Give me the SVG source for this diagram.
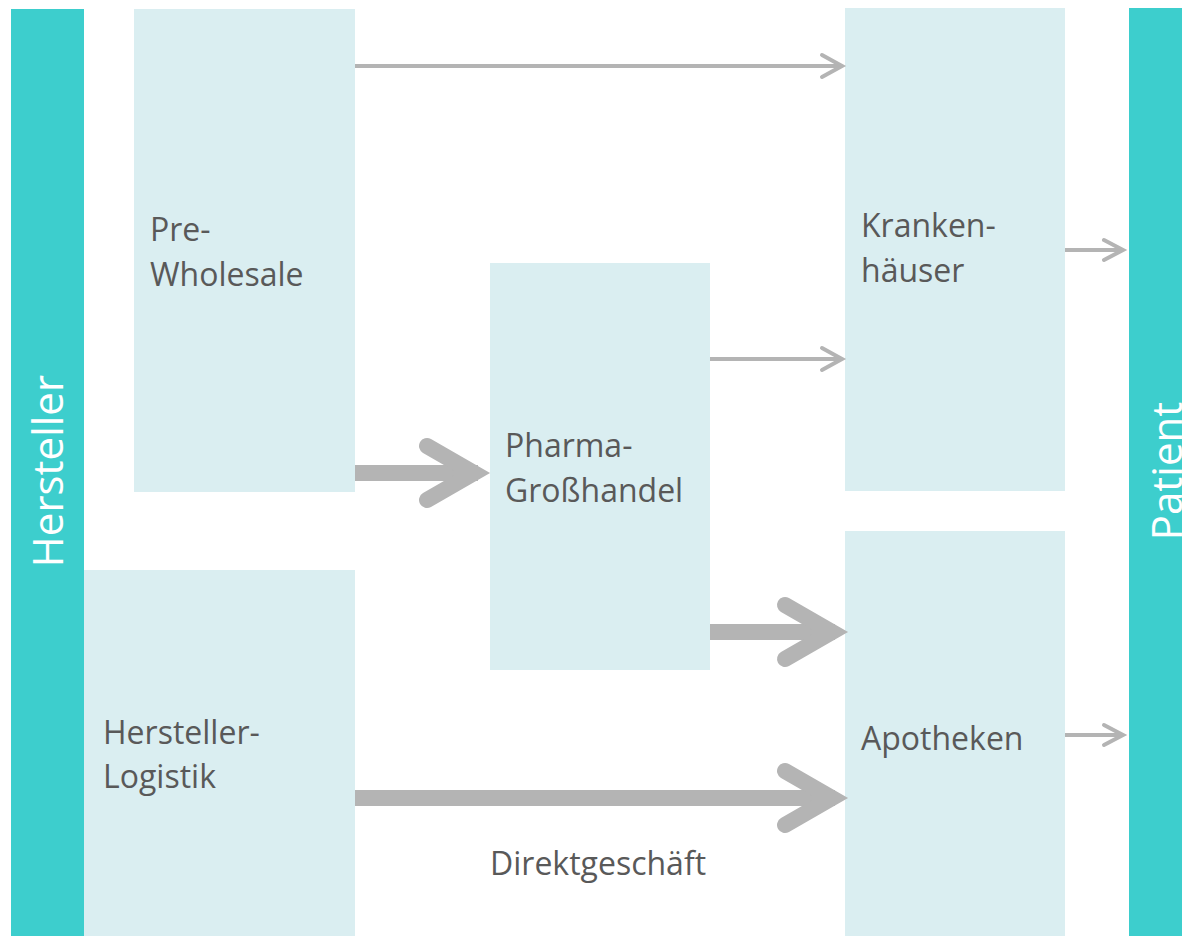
<svg xmlns="http://www.w3.org/2000/svg" width="1182" height="936" viewBox="0 0 1182 936">
<style>
.bar{fill:#3DCECD}
.box{fill:#DAEEF1}
.lbl{font-family:"Open Sans","Liberation Sans",sans-serif;font-size:32px;fill:#595959}
.vlbl{font-family:"Open Sans","Liberation Sans",sans-serif;font-size:42px;fill:#FFFFFF;text-anchor:middle}
.thin{stroke:#B4B4B4;stroke-width:4;fill:none;stroke-linecap:round;stroke-linejoin:miter}
.thick{stroke:#B4B4B4;stroke-width:16;fill:none}
.head{stroke:#B4B4B4;stroke-width:16;fill:none;stroke-linecap:round;stroke-linejoin:miter}
</style>
<rect width="1182" height="936" fill="#FFFFFF"/>
<g id="hersteller">
<rect class="bar" x="11" y="9" width="73" height="927"/>
<text class="vlbl" transform="translate(63,471) rotate(-90)">Hersteller</text>
</g>
<g id="patient">
<rect class="bar" x="1129" y="8" width="53" height="928"/>
<text class="vlbl" transform="translate(1182,471) rotate(-90)">Patient</text>
</g>
<g id="pre-wholesale">
<rect class="box" x="134" y="9" width="221" height="483"/>
<text class="lbl" x="150" y="241">Pre-</text>
<text class="lbl" x="150" y="286">Wholesale</text>
</g>
<g id="hersteller-logistik">
<rect class="box" x="84" y="570" width="271" height="366"/>
<text class="lbl" x="103" y="744">Hersteller-</text>
<text class="lbl" x="103" y="788">Logistik</text>
</g>
<g id="pharma-grosshandel">
<rect class="box" x="490" y="263" width="220" height="407"/>
<text class="lbl" x="505" y="457">Pharma-</text>
<text class="lbl" x="505" y="502">Großhandel</text>
</g>
<g id="krankenhaeuser">
<rect class="box" x="845" y="8" width="220" height="483"/>
<text class="lbl" x="861" y="237">Kranken-</text>
<text class="lbl" x="861" y="282">häuser</text>
</g>
<g id="apotheken">
<rect class="box" x="845" y="531" width="220" height="405"/>
<text class="lbl" x="861" y="750">Apotheken</text>
</g>
<g id="connectors">
<line class="thin" x1="355" y1="66" x2="842" y2="66" style="stroke-linecap:butt"/>
<polyline class="thin" points="822,55 842,66 822,77"/>
<line class="thin" x1="710" y1="359" x2="842" y2="359" style="stroke-linecap:butt"/>
<polyline class="thin" points="822,348 842,359 822,370"/>
<line class="thin" x1="1065" y1="250" x2="1123" y2="250" style="stroke-linecap:butt"/>
<polyline class="thin" points="1104,240 1123,250 1104,260"/>
<line class="thin" x1="1065" y1="735" x2="1123" y2="735" style="stroke-linecap:butt"/>
<polyline class="thin" points="1104,725 1123,735 1104,745"/>
<line class="thick" x1="355" y1="473" x2="478" y2="473"/>
<polyline class="head" points="427,446 474,473 427,500"/>
<line class="thick" x1="710" y1="632" x2="835" y2="632"/>
<polyline class="head" points="785,605 832,632 785,659"/>
<line class="thick" x1="355" y1="798" x2="835" y2="798"/>
<polyline class="head" points="785,771 832,798 785,825"/>
</g>
<text class="lbl" x="490" y="875">Direktgeschäft</text>
</svg>
